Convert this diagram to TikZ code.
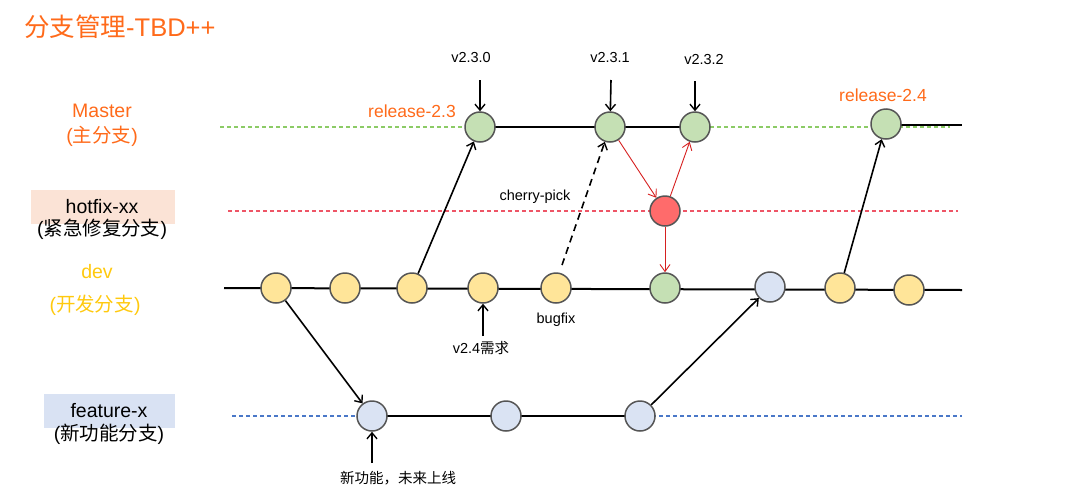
\documentclass[tikz,border=0pt]{standalone}
\usepackage{fontspec}
\setmainfont{Liberation Sans}
\newfontfamily\cjk{Noto Sans CJK SC}
\usetikzlibrary{arrows.meta}
\definecolor{orng}{HTML}{FF6A1A}
\definecolor{ylw}{HTML}{FFC90E}
\definecolor{cmgreen}{HTML}{C5E0B4}
\definecolor{cmyellow}{HTML}{FFE599}
\definecolor{cmblue}{HTML}{DAE3F3}
\definecolor{cmred}{HTML}{FF6B6B}
\definecolor{bordergray}{HTML}{555555}
\definecolor{hotbg}{HTML}{FBE3D6}
\definecolor{featbg}{HTML}{D9E2F3}
\definecolor{greenguide}{HTML}{8CCB66}
\definecolor{redguide}{HTML}{EE5566}
\definecolor{blueguide}{HTML}{4A78C8}
\definecolor{redline}{HTML}{D62020}
\tikzset{
  commit/.style={circle, draw=bordergray, line width=1.5pt, minimum size=30pt, inner sep=0pt},
  cg/.style={commit, fill=cmgreen},
  cy/.style={commit, fill=cmyellow},
  cb/.style={commit, fill=cmblue},
  cr/.style={commit, fill=cmred},
  branchline/.style={line width=2pt, black},
  guide/.style={dash pattern=on 4pt off 3pt, line width=1.1pt},
  flow/.style={line width=1.6pt, -{Straight Barb[length=6pt,width=10pt,line width=1.4pt]}},
  redflow/.style={line width=0.9pt, redline, -{Straight Barb[length=7pt,width=10pt,line width=0.9pt]}},
  small/.style={font=\fontsize{14.5}{17}\selectfont, inner sep=0pt},
  blabel/.style={font=\fontsize{19.5}{24}\selectfont, inner sep=0pt, align=center},
}
\begin{document}
\begin{tikzpicture}[x=1pt,y=-1pt]
\useasboundingbox (0,0) rectangle (1074,493);
% title
\node[anchor=west, orng, font=\fontsize{25.5}{30}\selectfont, inner sep=0pt] (title) at (24,27) {{\cjk 分支管理}-TBD++};
% branch labels
\node[blabel, orng] (lmaster) at (102,111) {Master};
\node[blabel, orng] (lmastercn) at (102,136) {({\cjk 主分支})};
\fill[hotbg] (31,190) rectangle (175,224);
\node[blabel] (lhot) at (102,207) {hotfix-xx};
\node[blabel] (lhotcn) at (102,229) {({\cjk 紧急修复分支})};
\node[blabel, ylw] (ldev) at (97,272) {dev};
\node[blabel, ylw] (ldevcn) at (95,305) {({\cjk 开发分支})};
\fill[featbg] (44,394) rectangle (175,428);
\node[blabel] (lfeat) at (109,411) {feature-x};
\node[blabel] (lfeatcn) at (109,434) {({\cjk 新功能分支})};
% guides
\draw[guide, draw=greenguide] (220,127) -- (950,127);
\draw[guide, draw=redguide] (228,211) -- (958,211);
\draw[guide, draw=blueguide] (232,416) -- (962,416);
% main lines
\coordinate (devL) at (224,288);
\coordinate (devR) at (962,290);
\coordinate (mR) at (962,125);
\draw[branchline] (devL) -- (devR);
\draw[branchline] (480,127) -- (695,127);
\draw[branchline] (886,125) -- (mR);
\draw[branchline] (372,416) -- (640,416);
% commits
\node[cg] (A1) at (480,127) {};
\node[cg] (A2) at (610,127) {};
\node[cg] (A3) at (695,127) {};
\node[cg] (A4) at (886,124) {};
\node[cr] (H) at (665,211) {};
\node[cy] (D1) at (276,288) {};
\node[cy] (D2) at (345,288) {};
\node[cy] (D3) at (412,288) {};
\node[cy] (D4) at (483,288) {};
\node[cy] (D5) at (556,288) {};
\node[cg] (G) at (665,288) {};
\node[cb] (F4) at (770,287) {};
\node[cy] (D6) at (840,288) {};
\node[cy] (D7) at (909,290) {};
\node[cb] (F1) at (372,416) {};
\node[cb] (F2) at (506,416) {};
\node[cb] (F3) at (640,416) {};
% flows
\draw[flow] (D3) -- (A1);
\draw[flow] (D1) -- (F1);
\draw[flow] (F3) -- (F4);
\draw[flow] (D6) -- (A4);
\coordinate (cpstart) at (562,265);
\draw[flow, dash pattern=on 7pt off 5pt] (cpstart) -- (A2);
\draw[redflow] (A2) -- (H);
\draw[redflow] (H) -- (A3);
\draw[redflow] (H) -- (G);
% version labels
\node[small] (v230) at (471,58) {v2.3.0};
\node[small] (v231) at (610,58) {v2.3.1};
\node[small] (v232) at (704,60) {v2.3.2};
\draw[flow] (480,80) -- (A1);
\draw[flow] (611,80) -- (A2);
\draw[flow] (695,81) -- (A3);
\node[orng, font=\fontsize{17.5}{20}\selectfont, inner sep=0pt] (r23) at (412,111) {release-2.3};
\node[orng, font=\fontsize{17.5}{20}\selectfont, inner sep=0pt] (r24) at (883,95) {release-2.4};
\node[small] (cp) at (535,197) {cherry-pick};
\node[small] (bug) at (556,320) {bugfix};
\node[small] (v24) at (481,348) {v2.4{\cjk 需求}};
\draw[flow] (483,336) -- (D4);
\node[small] (newf) at (398,478) {\cjk 新功能，未来上线};
\draw[flow] (372,463) -- (F1);
\end{tikzpicture}
\end{document}
